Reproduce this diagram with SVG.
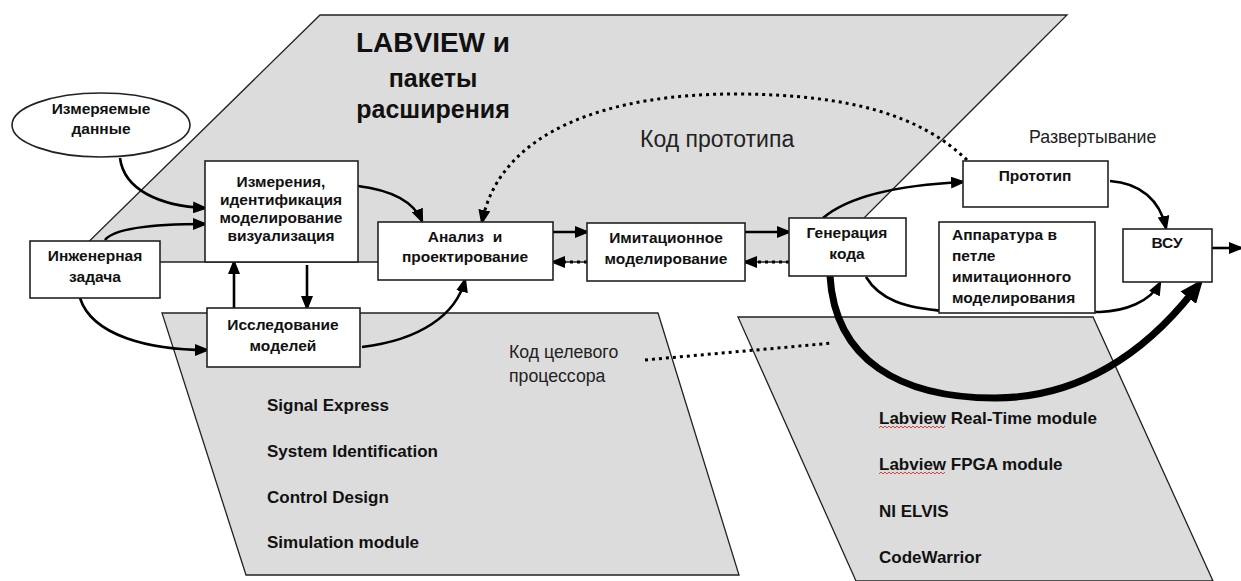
<svg xmlns="http://www.w3.org/2000/svg" width="1241" height="581" viewBox="0 0 1241 581">
<style>
.bg{fill:#fff}
.plane{fill:#dcdcdc;stroke:#222;stroke-width:1.3}
.box{fill:#fff;stroke:#222;stroke-width:1.6}
.lbl{font-family:"Liberation Sans",Arial,sans-serif;font-weight:bold;font-size:15.5px;fill:#111;text-anchor:middle}
.lbll{font-family:"Liberation Sans",Arial,sans-serif;font-weight:bold;font-size:15.5px;fill:#111}
.title{font-family:"Liberation Sans",Arial,sans-serif;font-weight:bold;fill:#111;text-anchor:middle}
.reg{font-family:"Liberation Sans",Arial,sans-serif;fill:#222}
.list{font-family:"Liberation Sans",Arial,sans-serif;font-weight:bold;font-size:17px;fill:#111}
.c{fill:none;stroke:#000;stroke-width:2.6}
.dot{fill:none;stroke:#000;stroke-width:3;stroke-dasharray:3 4}
.thick{fill:none;stroke:#000;stroke-width:7}
.sq{fill:none;stroke:#e03030;stroke-width:0.9}
</style>
<defs>
<marker id="ah" markerUnits="userSpaceOnUse" markerWidth="15" markerHeight="12" refX="12" refY="6" orient="auto"><path d="M0,0 L15,6 L0,12 z" fill="#000"/></marker>
<marker id="ahb" markerUnits="userSpaceOnUse" markerWidth="24" markerHeight="20" refX="6" refY="10" orient="auto"><path d="M0,0 L24,10 L0,20 z" fill="#000"/></marker>
</defs>
<rect class="bg" width="1241" height="581"/>

<g id="planes">
<polygon class="plane" points="320,15 1067,15 820,262 68,262"/>
<polygon class="plane" points="162,313 658,313 739,575 246,575"/>
<polygon class="plane" points="738,317 1093,317 1213,581 856,581"/>
</g>

<g id="labels">
<text class="title" x="433" y="52" font-size="28">LABVIEW и</text>
<text class="title" x="433" y="87" font-size="25">пакеты</text>
<text class="title" x="433" y="118" font-size="25">расширения</text>
<text class="reg" x="640" y="147" font-size="23">Код прототипа</text>
<text class="reg" x="1029" y="143" font-size="17.8">Развертывание</text>
<text class="reg" x="509" y="358" font-size="17.7">Код целевого</text>
<text class="reg" x="509" y="382" font-size="17.7">процессора</text>
<text class="list" x="267" y="411">Signal Express</text>
<text class="list" x="267" y="457">System Identification</text>
<text class="list" x="267" y="503">Control Design</text>
<text class="list" x="267" y="548">Simulation module</text>
<text class="list" x="879" y="424">Labview Real-Time module</text>
<text class="list" x="879" y="470">Labview FPGA module</text>
<text class="list" x="879" y="517">NI ELVIS</text>
<text class="list" x="879" y="563">CodeWarrior</text>
<path class="sq" d="M879,428 l2,-2 l2,2 l2,-2 l2,2 l2,-2 l2,2 l2,-2 l2,2 l2,-2 l2,2 l2,-2 l2,2 l2,-2 l2,2 l2,-2 l2,2 l2,-2 l2,2 l2,-2 l2,2 l2,-2 l2,2 l2,-2 l2,2 l2,-2 l2,2 l2,-2 l2,2 l2,-2 l2,2 l2,-2 l2,2 l2,-2"/>
<path class="sq" d="M879,474 l2,-2 l2,2 l2,-2 l2,2 l2,-2 l2,2 l2,-2 l2,2 l2,-2 l2,2 l2,-2 l2,2 l2,-2 l2,2 l2,-2 l2,2 l2,-2 l2,2 l2,-2 l2,2 l2,-2 l2,2 l2,-2 l2,2 l2,-2 l2,2 l2,-2 l2,2 l2,-2 l2,2 l2,-2 l2,2 l2,-2"/>
</g>

<g id="connectors">
<path class="c" d="M120,158 C124,190 160,206 205,208" marker-end="url(#ah)"/>
<path class="c" d="M105,240 C115,227 160,224 205,224" marker-end="url(#ah)"/>
<path class="c" d="M80,298 C92,336 150,350 207,350" marker-end="url(#ah)"/>
<path class="c" d="M234,308 L234,262" marker-end="url(#ah)"/>
<path class="c" d="M307,265 L307,308" marker-end="url(#ah)"/>
<path class="c" d="M358,186 C390,190 413,200 422,221" marker-end="url(#ah)"/>
<path class="c" d="M362,347 C420,340 456,315 465,280" marker-end="url(#ah)"/>
<path class="c" d="M553,232 L587,232" marker-end="url(#ah)"/>
<path class="dot" d="M587,262 L553,262" marker-end="url(#ah)"/>
<path class="c" d="M745,232 L789,232" marker-end="url(#ah)"/>
<path class="dot" d="M789,262 L745,262" marker-end="url(#ah)"/>
<path class="dot" d="M967,160 C920,115 850,95 740,94 C610,93 500,130 482,222" marker-end="url(#ah)"/>
<path class="c" d="M823,218 C850,195 900,185 963,182" marker-end="url(#ah)"/>
<path class="c" d="M1110,181 C1140,183 1160,200 1166,228" marker-end="url(#ah)"/>
<path class="c" d="M866,277 C880,300 905,308 945,311 L1100,312 C1125,311 1150,302 1160,283" marker-end="url(#ah)"/>
<path class="thick" d="M830,276 C835,360 900,398 995,398 C1080,398 1145,352 1192,293" marker-end="url(#ahb)"/>
<path class="c" d="M1212,248 L1241,248" marker-end="url(#ah)"/>
<path class="dot" d="M645,360 L833,343"/>
</g>

<g id="n-data">
<ellipse cx="101" cy="125" rx="89" ry="32" fill="#fff" stroke="#222" stroke-width="1.6"/>
<text class="lbl" x="101" y="114">Измеряемые</text>
<text class="lbl" x="101" y="134">данные</text>
</g>
<g id="n-task">
<rect class="box" x="30" y="241" width="130" height="57"/>
<text class="lbl" x="95" y="261">Инженерная</text>
<text class="lbl" x="95" y="282">задача</text>
</g>
<g id="n-meas">
<rect class="box" x="205" y="161" width="153" height="101"/>
<text class="lbl" x="281" y="187">Измерения,</text>
<text class="lbl" x="281" y="205">идентификация</text>
<text class="lbl" x="281" y="223">моделирование</text>
<text class="lbl" x="281" y="241">визуализация</text>
</g>
<g id="n-study">
<rect class="box" x="207" y="308" width="153" height="59"/>
<text class="lbl" x="283" y="330">Исследование</text>
<text class="lbl" x="283" y="351">моделей</text>
</g>
<g id="n-analysis">
<rect class="box" x="378" y="222" width="175" height="58"/>
<text class="lbl" x="465" y="242" xml:space="preserve">Анализ  и</text>
<text class="lbl" x="465" y="262">проектирование</text>
</g>
<g id="n-sim">
<rect class="box" x="587" y="223" width="158" height="58"/>
<text class="lbl" x="666" y="243">Имитационное</text>
<text class="lbl" x="666" y="264">моделирование</text>
</g>
<g id="n-codegen">
<rect class="box" x="789" y="218" width="117" height="58"/>
<text class="lbl" x="847" y="238">Генерация</text>
<text class="lbl" x="847" y="259">кода</text>
</g>
<g id="n-proto">
<rect class="box" x="963" y="161" width="145" height="46"/>
<text class="lbl" x="1035" y="181">Прототип</text>
</g>
<g id="n-hil">
<rect class="box" x="939" y="222" width="156" height="91"/>
<text class="lbll" x="952" y="240">Аппаратура в</text>
<text class="lbll" x="952" y="261">петле</text>
<text class="lbll" x="952" y="282">имитационного</text>
<text class="lbll" x="952" y="303">моделирования</text>
</g>
<g id="n-vsu">
<rect class="box" x="1123" y="229" width="89" height="53"/>
<text class="lbl" x="1167" y="248">ВСУ</text>
</g>
</svg>
